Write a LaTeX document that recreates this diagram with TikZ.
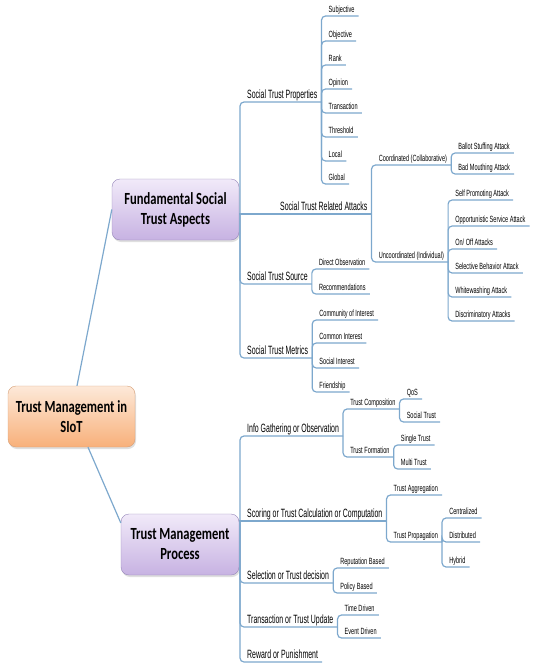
\documentclass[tikz,border=0pt]{standalone}
\usepackage{fontspec}
\usepackage{xcolor}
\usetikzlibrary{shadows}
\newfontfamily\brfont[FakeStretch=0.58]{Liberation Sans}
\newfontfamily\lffont[FakeStretch=0.62]{Liberation Sans}
\newfontfamily\hubfont[FakeStretch=0.74]{Carlito}
\definecolor{linkblue}{RGB}{125,168,205}
\definecolor{roottop}{RGB}{253,233,217}
\definecolor{rootbot}{RGB}{248,176,122}
\definecolor{rootline}{RGB}{214,160,120}
\definecolor{toptop}{RGB}{241,234,249}
\definecolor{topbot}{RGB}{199,178,226}
\definecolor{topline}{RGB}{150,135,185}

\begin{document}
\begin{tikzpicture}[x=1pt, y=-1pt,
  link/.style={draw=linkblue, line width=1.2pt, rounded corners=4pt},
  hub/.style={rounded corners=8pt, align=center, minimum height=61pt, font=\hubfont\bfseries\fontsize{17}{20}\selectfont, drop shadow={shadow xshift=1pt, shadow yshift=-2pt, opacity=0.25}},
  br/.style={anchor=south west, xshift=3pt, inner xsep=4pt, inner ysep=1pt, text height=9pt, text depth=2.5pt, font=\brfont\fontsize{12}{14}\selectfont},
  lf/.style={anchor=south west, xshift=3pt, inner xsep=4pt, inner ysep=1pt, text height=6.5pt, text depth=2.5pt, font=\lffont\fontsize{9}{11}\selectfont}]
\useasboundingbox (0,0) rectangle (533,664);

% main boxes
\node[hub, draw=rootline, top color=roottop, bottom color=rootbot, minimum width=127pt] (root) at (71.5,416.5) {Trust Management in\\SIoT};
\node[hub, draw=topline, top color=toptop, bottom color=topbot, minimum width=127pt] (fsta) at (175.5,209.5) {Fundamental Social\\Trust Aspects};
\node[hub, draw=topline, top color=toptop, bottom color=topbot, minimum width=118pt] (tmp) at (180,544.5) {Trust Management\\Process};
\draw[link] ([xshift=5.5pt]root.north) -- (fsta.west);
\draw[link] ([xshift=16.5pt]root.south) -- (tmp.160);

% social trust aspects
\coordinate (fj) at (240,214);
\node[br] (stp) at (fj |- 0,102) {Social Trust Properties};
\node[br, xshift=33pt] (stra) at (fj) {Social Trust Related Attacks};
\node[br] (sts) at (fj |- 0,284) {Social Trust Source};
\node[br] (stm) at (fj |- 0,358) {Social Trust Metrics};
\draw[link] (fsta.east |- fj) -- (stra.south east);
\draw[link] (fj) |- (stp.south east);
\draw[link] (fj) |- (sts.south east);
\draw[link] (fj) |- (stm.south east);

\node[lf] (subj) at (stp.south east |- 0,16) {Subjective};
\node[lf] (obj) at (stp.south east |- 0,41) {Objective};
\node[lf] (rank) at (stp.south east |- 0,65) {Rank};
\node[lf] (opin) at (stp.south east |- 0,89) {Opinion};
\node[lf] (trans) at (stp.south east |- 0,113) {Transaction};
\node[lf] (thres) at (stp.south east |- 0,137) {Threshold};
\node[lf] (local) at (stp.south east |- 0,161) {Local};
\node[lf] (global) at (stp.south east |- 0,184) {Global};
\draw[link] (stp.south east) |- (subj.south east);
\draw[link] (stp.south east) |- (obj.south east);
\draw[link] (stp.south east) |- (rank.south east);
\draw[link] (stp.south east) |- (opin.south east);
\draw[link] (stp.south east) |- (trans.south east);
\draw[link] (stp.south east) |- (thres.south east);
\draw[link] (stp.south east) |- (local.south east);
\draw[link] (stp.south east) |- (global.south east);

\node[lf] (coo) at (stra.south east |- 0,165) {Coordinated (Collaborative)};
\node[lf] (unc) at (stra.south east |- 0,262) {Uncoordinated (Individual)};
\draw[link] (stra.south east) |- (coo.south east);
\draw[link] (stra.south east) |- (unc.south east);

\node[lf] (bsa) at (coo.south east |- 0,153) {Ballot Stuffing Attack};
\node[lf] (bma) at (coo.south east |- 0,174) {Bad Mouthing Attack};
\draw[link] (coo.south east) |- (bsa.south east);
\draw[link] (coo.south east) |- (bma.south east);

\node[lf] (spa) at (unc.south east |- 0,200) {Self Promoting Attack};
\node[lf] (osa) at (unc.south east |- 0,226) {Opportunistic Service Attack};
\node[lf] (ooa) at (unc.south east |- 0,249) {On/ Off Attacks};
\node[lf] (sba) at (unc.south east |- 0,273) {Selective Behavior Attack};
\node[lf] (wwa) at (unc.south east |- 0,297) {Whitewashing Attack};
\node[lf] (dca) at (unc.south east |- 0,321) {Discriminatory Attacks};
\draw[link] (unc.south east) |- (spa.south east);
\draw[link] (unc.south east) |- (osa.south east);
\draw[link] (unc.south east) |- (ooa.south east);
\draw[link] (unc.south east) |- (sba.south east);
\draw[link] (unc.south east) |- (wwa.south east);
\draw[link] (unc.south east) |- (dca.south east);

\node[lf] (dob) at (sts.south east |- 0,269) {Direct Observation};
\node[lf] (rec) at (sts.south east |- 0,294) {Recommendations};
\draw[link] (sts.south east) |- (dob.south east);
\draw[link] (sts.south east) |- (rec.south east);

\node[lf] (coi) at (stm.south east |- 0,320) {Community of Interest};
\node[lf] (cmi) at (stm.south east |- 0,343) {Common Interest};
\node[lf] (soi) at (stm.south east |- 0,368) {Social Interest};
\node[lf] (frd) at (stm.south east |- 0,392) {Friendship};
\draw[link] (stm.south east) |- (coi.south east);
\draw[link] (stm.south east) |- (cmi.south east);
\draw[link] (stm.south east) |- (soi.south east);
\draw[link] (stm.south east) |- (frd.south east);

% trust management process
\coordinate (tj) at (240,521);
\node[br] (info) at (tj |- 0,436) {Info Gathering or Observation};
\node[br] (scr) at (tj) {Scoring or Trust Calculation or Computation};
\node[br] (sel) at (tj |- 0,583) {Selection or Trust decision};
\node[br] (trn) at (tj |- 0,627) {Transaction or Trust Update};
\node[br] (rwd) at (tj |- 0,662) {Reward or Punishment};
\draw[link] (tmp.east |- tj) -- (scr.south east);
\draw[link] (tj) |- (info.south east);
\draw[link] (tj) |- (sel.south east);
\draw[link] (tj) |- (trn.south east);
\draw[link] (tj) |- (rwd.south east);

\node[lf] (tco) at (info.south east |- 0,409) {Trust Composition};
\node[lf] (tfo) at (info.south east |- 0,457) {Trust Formation};
\draw[link] (info.south east) |- (tco.south east);
\draw[link] (info.south east) |- (tfo.south east);

\node[lf] (qos) at (tco.south east |- 0,399) {QoS};
\node[lf] (sot) at (tco.south east |- 0,422) {Social Trust};
\draw[link] (tco.south east) |- (qos.south east);
\draw[link] (tco.south east) |- (sot.south east);

\node[lf] (sgt) at (tfo.south east |- 0,445) {Single Trust};
\node[lf] (mlt) at (tfo.south east |- 0,469) {Multi Trust};
\draw[link] (tfo.south east) |- (sgt.south east);
\draw[link] (tfo.south east) |- (mlt.south east);

\node[lf] (tag) at (scr.south east |- 0,495) {Trust Aggregation};
\node[lf] (tpr) at (scr.south east |- 0,542) {Trust Propagation};
\draw[link] (scr.south east) |- (tag.south east);
\draw[link] (scr.south east) |- (tpr.south east);

\node[lf] (cen) at (tpr.south east |- 0,518) {Centralized};
\node[lf] (dis) at (tpr.south east |- 0,542) {Distributed};
\node[lf] (hyb) at (tpr.south east |- 0,567) {Hybrid};
\draw[link] (tpr.south east) |- (cen.south east);
\draw[link] (tpr.south east) |- (dis.south east);
\draw[link] (tpr.south east) |- (hyb.south east);

\node[lf] (rpb) at (sel.south east |- 0,568) {Reputation Based};
\node[lf] (plb) at (sel.south east |- 0,593) {Policy Based};
\draw[link] (sel.south east) |- (rpb.south east);
\draw[link] (sel.south east) |- (plb.south east);

\node[lf] (tmd) at (trn.south east |- 0,615) {Time Driven};
\node[lf] (evd) at (trn.south east |- 0,638) {Event Driven};
\draw[link] (trn.south east) |- (tmd.south east);
\draw[link] (trn.south east) |- (evd.south east);
\end{tikzpicture}
\end{document}
